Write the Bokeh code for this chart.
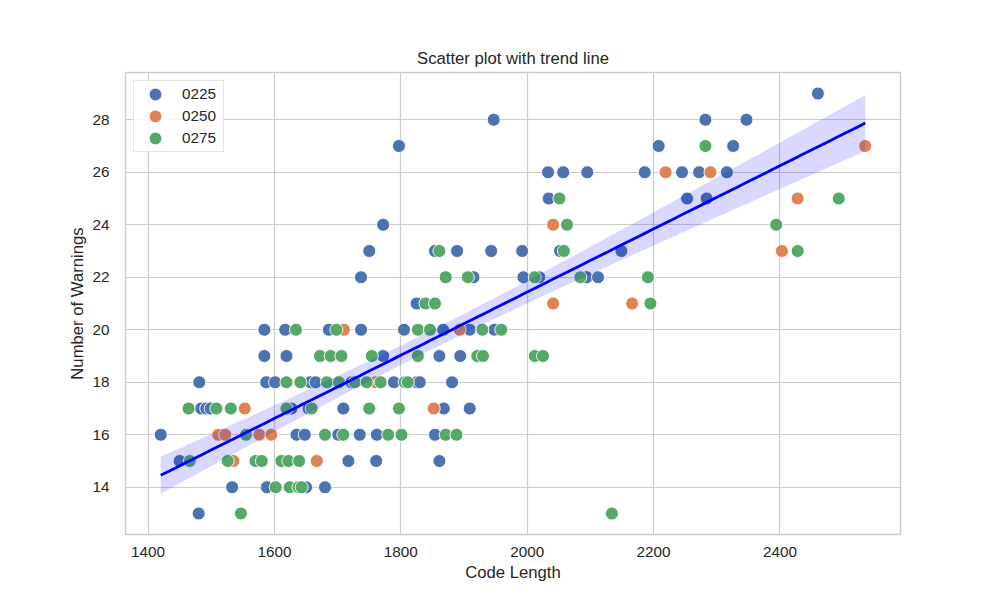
import numpy as np
from bokeh.plotting import figure
from bokeh.models import Range1d, FixedTicker, Legend, LegendItem
from bokeh.embed import file_html
from bokeh.resources import INLINE

# ---- data ----
x_0225 = [1480,
          1533, 1588, 1650, 1680,
          1450, 1717, 1761, 1861,
          1420, 1635, 1648, 1701, 1735, 1762, 1854,
          1484, 1492, 1499, 1627, 1654, 1709, 1868, 1909,
          1481, 1587, 1601, 1657, 1665, 1722, 1789, 1825, 1830, 1881,
          1584, 1619, 1772, 1861, 1894,
          1584, 1617, 1686, 1737, 1805, 1867, 1909, 1948,
          1825,
          1737, 1915, 1994, 2019, 2094, 2112,
          1750, 1854, 1889, 1943, 1992, 2052, 2149,
          1772,
          2034, 2253, 2284,
          2033, 2057, 2095, 2186, 2245, 2272, 2316,
          1797, 2208, 2326,
          1947, 2282, 2347,
          2460]
y_0225 = [13,
          14, 14, 14, 14,
          15, 15, 15, 15,
          16, 16, 16, 16, 16, 16, 16,
          17, 17, 17, 17, 17, 17, 17, 17,
          18, 18, 18, 18, 18, 18, 18, 18, 18, 18,
          19, 19, 19, 19, 19,
          20, 20, 20, 20, 20, 20, 20, 20,
          21,
          22, 22, 22, 22, 22, 22,
          23, 23, 23, 23, 23, 23, 23,
          24,
          25, 25, 25,
          26, 26, 26, 26, 26, 26, 26,
          27, 27, 27,
          28, 28, 28,
          29]

x_0250 = [1535, 1667,
          1511, 1522, 1576, 1595,
          1553, 1852,
          1760,
          1710, 1893,
          2041, 2166,
          2403,
          2041,
          2428,
          2219, 2290,
          2535]
y_0250 = [15, 15,
          16, 16, 16, 16,
          17, 17,
          18,
          20, 20,
          21, 21,
          23,
          24,
          25,
          26, 26,
          27]

x_0275 = [1547, 2134,
          1602, 1624, 1638, 1643,
          1466, 1526, 1570, 1580, 1611, 1622, 1639,
          1555, 1680, 1709, 1780, 1801, 1871, 1888,
          1464, 1508, 1531, 1619, 1659, 1750, 1797,
          1619, 1641, 1683, 1702, 1727, 1746, 1768, 1806, 1811,
          1672, 1689, 1706, 1754, 1827, 1921, 1930, 2012, 2025,
          1634, 1698, 1827, 1846, 1929, 1959,
          1839, 1854, 2195,
          1871, 1906, 2012, 2084, 2191,
          1861, 2058, 2428,
          2063, 2394,
          2051, 2493,
          2282]
y_0275 = [13, 13,
          14, 14, 14, 14,
          15, 15, 15, 15, 15, 15, 15,
          16, 16, 16, 16, 16, 16, 16,
          17, 17, 17, 17, 17, 17, 17,
          18, 18, 18, 18, 18, 18, 18, 18, 18,
          19, 19, 19, 19, 19, 19, 19, 19, 19,
          20, 20, 20, 20, 20, 20,
          21, 21, 21,
          22, 22, 22, 22, 22,
          23, 23, 23,
          24, 24,
          25, 25,
          27]

series_names = ["0225", "0250", "0275"]
series_colors = ["#4c72b0", "#dd8452", "#55a868"]
x_ticks = [1400, 1600, 1800, 2000, 2200, 2400]
y_ticks = [14, 16, 18, 20, 22, 24, 26, 28]

# ---- regression on all points ----
xs_all = np.array(x_0225 + x_0250 + x_0275, dtype=float)
ys_all = np.array(y_0225 + y_0250 + y_0275, dtype=float)
n = len(xs_all)
slope, intercept = np.polyfit(xs_all, ys_all, 1)
resid = ys_all - (slope * xs_all + intercept)
s = np.sqrt(np.sum(resid ** 2) / (n - 2))
xm = xs_all.mean()
sxx = np.sum((xs_all - xm) ** 2)
grid_x = np.linspace(xs_all.min(), xs_all.max(), 100)
fit_y = slope * grid_x + intercept
half = 1.975 * s * np.sqrt(1.0 / n + (grid_x - xm) ** 2 / sxx)

xmin, xmax = xs_all.min(), xs_all.max()
ymin, ymax = ys_all.min(), ys_all.max()
xpad = 0.05 * (xmax - xmin)
ypad = 0.05 * (ymax - ymin)

FONT = "Liberation Sans"
TXT = "#262626"

p = figure(frame_width=775, frame_height=462,
           x_range=Range1d(xmin - xpad, xmax + xpad),
           y_range=Range1d(ymin - ypad, ymax + ypad),
           output_backend="svg", toolbar_location=None,
           title="Scatter plot with trend line",
           x_axis_label="Code Length", y_axis_label="Number of Warnings")
p.min_border_left = 125
p.min_border_right = 92
p.min_border_top = 72
p.min_border_bottom = 58
p.background_fill_color = "white"
p.border_fill_color = "white"
p.outline_line_color = "#cccccc"
p.outline_line_width = 1.5

p.title.align = "center"
p.title.text_font = FONT
p.title.text_font_size = "16.7px"
p.title.text_font_style = "normal"
p.title.text_color = TXT
p.title.standoff = 9

p.xaxis.ticker = FixedTicker(ticks=x_ticks)
p.yaxis.ticker = FixedTicker(ticks=y_ticks)
for ax in (p.xaxis, p.yaxis):
    ax.axis_line_color = None
    ax.major_tick_line_color = None
    ax.minor_tick_line_color = None
    ax.major_label_text_font = FONT
    ax.major_label_text_font_size = "15.3px"
    ax.major_label_text_color = TXT
    ax.axis_label_text_font = FONT
    ax.axis_label_text_font_size = "16.7px"
    ax.axis_label_text_font_style = "normal"
    ax.axis_label_text_color = TXT
p.xaxis.major_label_standoff = 6
p.yaxis.major_label_standoff = 10
p.xaxis.axis_label_standoff = 3
p.yaxis.axis_label_standoff = 2

p.xgrid.grid_line_color = "#cccccc"
p.ygrid.grid_line_color = "#cccccc"
p.xgrid.grid_line_width = 1.2
p.ygrid.grid_line_width = 1.2

# legend swatches: 1px ellipses sitting under the first marker of each series
# (hidden by the scatter drawn on top); the legend draws them at full size
swatches = [p.ellipse(x=xv[:1], y=yv[:1], width=1, height=1,
                      width_units="screen", height_units="screen",
                      fill_color=col, line_color="white", line_width=0.9)
            for xv, yv, col in zip([x_0225, x_0250, x_0275], [y_0225, y_0250, y_0275], series_colors)]

for xv, yv, col in zip([x_0225, x_0250, x_0275], [y_0225, y_0250, y_0275], series_colors):
    p.scatter(xv, yv, size=13, fill_color=col, line_color="white", line_width=0.9)

p.varea(x=grid_x, y1=fit_y - half, y2=fit_y + half, fill_color="#0000ff", fill_alpha=0.15)
p.line(grid_x, fit_y, line_color="#0000ff", line_width=2.8)

legend = Legend(items=[LegendItem(label=nm, renderers=[r]) for nm, r in zip(series_names, swatches)],
                location="top_left")
legend.margin = 8
legend.padding = dict(left=13, right=5, top=4, bottom=4)
legend.spacing = 4
legend.glyph_width = 16
legend.glyph_height = 16
legend.label_height = 16
legend.label_width = 36
legend.label_standoff = 19
legend.label_text_font = FONT
legend.label_text_font_size = "15.3px"
legend.label_text_color = TXT
legend.border_line_color = "#cccccc"
legend.border_line_width = 1
legend.background_fill_alpha = 0.8
p.add_layout(legend)

open("out.html", "w").write(file_html(p, INLINE))
